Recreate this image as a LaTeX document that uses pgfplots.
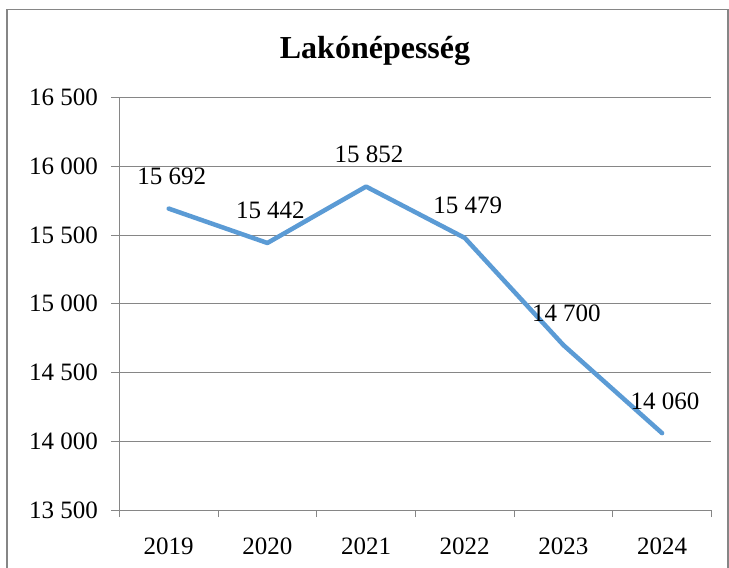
\documentclass[border=0pt]{standalone}
\usepackage{fontspec}
\setmainfont{Liberation Serif}
\usepackage{pgfplots}
\pgfplotsset{compat=1.18}
\definecolor{linec}{RGB}{91,155,213}
\definecolor{gridc}{RGB}{134,134,134}
\begin{document}
\begin{tikzpicture}[x=1pt,y=1pt]
\useasboundingbox (0,0) rectangle (729,568);
\fill[white] (0,0) rectangle (729,568);
\draw[gridc, line width=1.5pt] (7,0) -- (7,558.5) -- (728,558.5) -- (728,0);
\node[font=\fontsize{32}{36}\selectfont\bfseries, anchor=base, inner sep=0pt] at (375,509) {Lakónépesség};
\begin{axis}[
  at={(121,42)}, anchor=south west,
  scale only axis, width=592pt, height=412.8pt,
  xmin=-0.5, xmax=5.5, ymin=13500, ymax=16500,
  ytick={13500,14000,...,16500},
  scaled y ticks=false,
  xtick={0,...,5},
  xticklabels={2019,2020,2021,2022,2023,2024},
  minor xtick={-0.5,0.5,...,5.5},
  major x tick style={draw=none},
  minor x tick style={gridc, line width=1pt},
  major y tick style={gridc, line width=1pt},
  minor tick length=7pt,
  major tick length=8pt,
  tick align=outside,
  axis lines*=left,
  axis line style={gridc, line width=1pt},
  ymajorgrids,
  grid style={gridc, line width=1pt},
  clip=false,
  /pgf/number format/.cd, fixed, precision=0, 1000 sep={\ }, assume math mode=true,
  /pgfplots/.cd,
  ticklabel style={font=\fontsize{25}{30}\selectfont},
  yticklabel style={xshift=-10pt},
  xticklabel style={yshift=-16pt},
  nodes near coords,
  every node near coord/.append style={font=\fontsize{25}{30}\selectfont, anchor=base, yshift=24pt, xshift=3pt, text=black},
]
\addplot[linec, line width=4.5pt, line cap=round, line join=round, mark=none]
  coordinates {(0,15692) (1,15442) (2,15852) (3,15479) (4,14700) (5,14060)};
\end{axis}
\end{tikzpicture}
\end{document}
